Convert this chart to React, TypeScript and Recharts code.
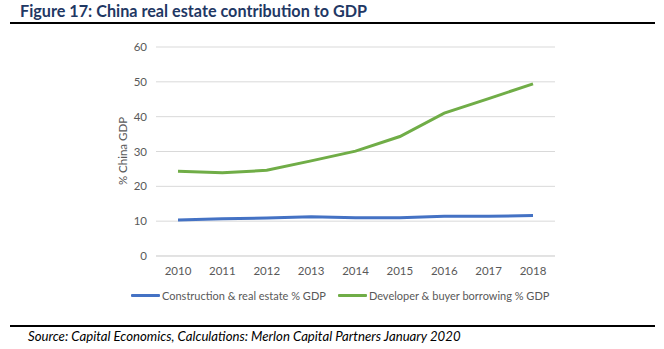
import React from "react";
import { LineChart, Line, XAxis, YAxis, CartesianGrid } from "recharts";

const years = ["2010", "2011", "2012", "2013", "2014", "2015", "2016", "2017", "2018"];
const construction = [10.3, 10.7, 10.9, 11.3, 11.0, 11.0, 11.4, 11.4, 11.6];
const borrowing = [24.3, 23.9, 24.6, 27.3, 30.1, 34.3, 41.0, 45.2, 49.4];
const yTicks = [0, 10, 20, 30, 40, 50, 60];

const seriesNames = ["Construction & real estate % GDP", "Developer & buyer borrowing % GDP"];
const seriesColors = ["#4472C4", "#70AD47"];

const data = years.map((y, i) => ({ year: y, construction: construction[i], borrowing: borrowing[i] }));

const FONT = "Lato, 'Noto Sans', sans-serif";

export default function App() {
  return (
    <div style={{ position: "absolute", left: 0, top: 0, width: 664, height: 349, background: "#fff", overflow: "hidden" }}>
      <div style={{ position: "absolute", left: 20, top: 1, fontFamily: FONT, fontWeight: 700, fontSize: 16.2, color: "#1F3864", whiteSpace: "nowrap" }}>
        Figure 17: China real estate contribution to GDP
      </div>
      <div style={{ position: "absolute", left: 10, top: 22, width: 645, height: 2, background: "#000" }} />
      <div style={{ position: "absolute", left: 10, top: 325, width: 645, height: 2, background: "#000" }} />
      <div style={{ position: "absolute", left: 28, top: 328, fontFamily: FONT, fontStyle: "italic", fontSize: 13.2, color: "#000", whiteSpace: "nowrap" }}>
        Source: Capital Economics, Calculations: Merlon Capital Partners January 2020
      </div>
      <div style={{ position: "absolute", left: 122, top: 151, width: 0, height: 0 }}>
        <div style={{ position: "absolute", transform: "translate(-50%, -50%) rotate(-90deg)", fontFamily: FONT, fontSize: 11.5, color: "#595959", whiteSpace: "nowrap" }}>
          % China GDP
        </div>
      </div>
      <div style={{ position: "absolute", left: 131, top: 289, display: "flex", alignItems: "center", fontFamily: FONT, fontSize: 11, color: "#595959", whiteSpace: "nowrap" }}>
        {seriesNames.map((n, i) => (
          <div key={i} style={{ display: "flex", alignItems: "center", marginRight: i === 0 ? 12 : 0 }}>
            <div style={{ width: 29, height: 3, background: seriesColors[i], marginRight: 2, borderRadius: 1 }} />
            <span>{n}</span>
          </div>
        ))}
      </div>
      <div style={{ position: "absolute", left: 0, top: 0 }}>
        <LineChart width={664} height={349} data={data} margin={{ top: 47, right: 109, bottom: 63, left: 116 }}>
          <CartesianGrid horizontal={true} vertical={false} stroke="#D9D9D9" strokeWidth={1} />
          <XAxis
            dataKey="year"
            axisLine={{ stroke: "#D9D9D9" }}
            tickLine={false}
            tickMargin={5}
            padding={{ left: 22, right: 22 }}
            height={30}
            tick={{ fill: "#595959", fontSize: 11.5, fontFamily: FONT }}
            interval={0}
          />
          <YAxis
            domain={[0, 60]}
            ticks={yTicks}
            axisLine={false}
            tickLine={false}
            tickMargin={3}
            width={40}
            tick={{ fill: "#595959", fontSize: 11.5, fontFamily: FONT }}
          />
          <Line type="linear" dataKey="construction" name={seriesNames[0]} stroke={seriesColors[0]} strokeWidth={3} dot={false} isAnimationActive={false} />
          <Line type="linear" dataKey="borrowing" name={seriesNames[1]} stroke={seriesColors[1]} strokeWidth={3} dot={false} isAnimationActive={false} />
        </LineChart>
      </div>
    </div>
  );
}
